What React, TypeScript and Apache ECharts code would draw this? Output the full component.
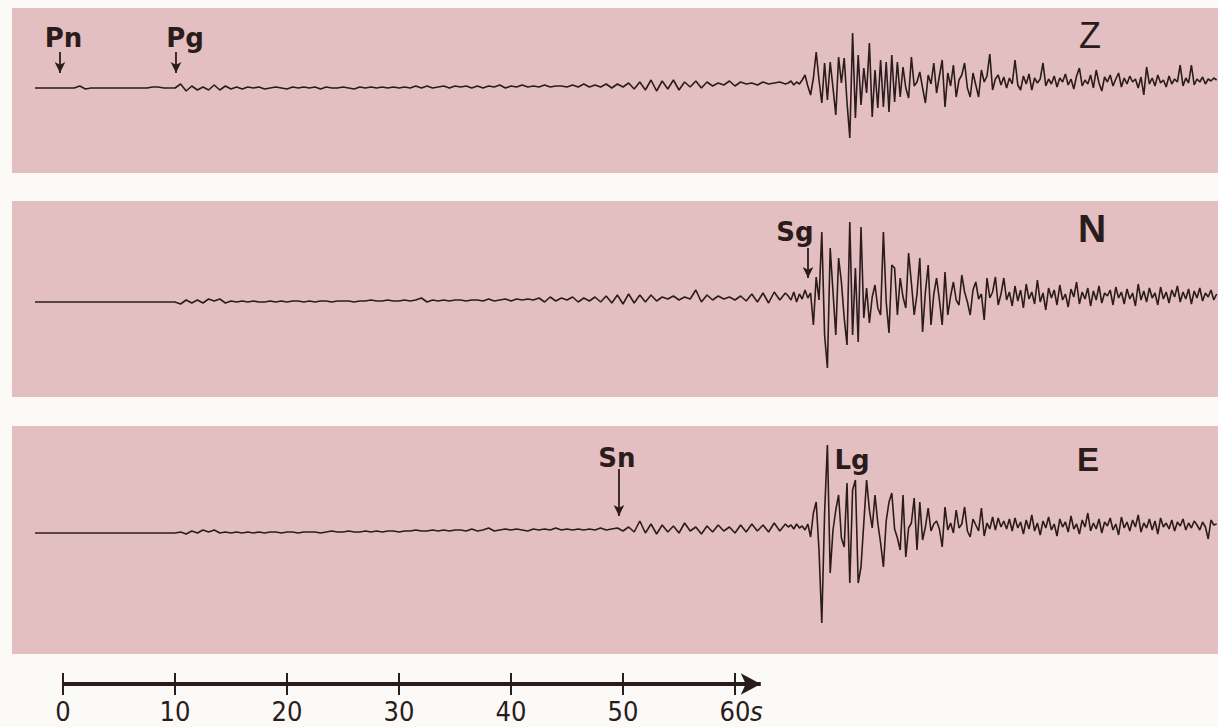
import React, { useEffect, useRef } from "react";
import * as echarts from "echarts";

// ---- sample time grid (seconds) ----
const EARLY_START = -2.5;
const EARLY_STEP = 0.5;
const LATE_START = 64.75;
const LATE_STEP = 0.25;

// ---- trace amplitudes (px above each trace's reference line) ----
const Z_EARLY = [
  0, 0, 0, 0, 0, 0, 0, 0, 2, -1,
  0, 0, 0, 0, 0, 0, 0, 0, 0, 0, 0, 1, 1, 0, 0,
  0, 4, -3, 2, -2, 1, -2, 3, -2, 2, -1, 1, -1, 1, 0,
  1, -1, 0, 1, 0, -1, 1, 0, 1, 0, 1, -1, 1, 0, 0,
  1, 0, -1, 1, 0, 1, 0, 1, 0, 1, 0, 1, 0, 2, 0,
  2, 0, 1, 2, 0, 2, 1, 2, 0, 2, 0, 2, 1, 3, 0,
  2, 1, 3, 1, 2, 1, 3, 1, 2, 2, 1, 3, 1, 4, 1,
  3, 1, 4, 0, 4, 1, 5, -1, 6, -2, 8, -3, 7, -1, 8,
  -2, 6, 1, 7, 0, 6, 2, 5, 3, 7, 2, 6, 4, 5, 3,
  6, 4, 5, 6, 4,
];
const Z_LATE = [
  5, 7, 3, 6, 4, 8, 13, 2, -7, 10,
  36, 8, -15, 25, -12, 26, 0, -27, 31, 5,
  30, -14, -50, 55, -30, 33, -17, 20, -5, 45,
  -29, 18, -20, 28, -19, 26, -24, 33, -14, 26,
  -9, 21, 0, -10, 31, 2, 6, 16, 0, -15,
  13, 4, 25, -5, 12, 28, -19, 15, 2, 23,
  -9, 8, 13, 25, 0, -9, 15, 3, -9, 18,
  6, 12, 34, -2, 9, 13, 3, 11, 0, 10,
  4, 28, 3, -2, 12, 4, 14, -2, 10, 5,
  9, 25, 2, 9, 4, 12, 1, 10, 6, 14,
  3, 9, -1, 12, 20, 2, 8, 4, 13, 0,
  18, 5, -3, 11, 6, 13, 2, 9, 15, 1,
  10, 4, 12, 6, 9, 0, 11, -7, 21, 4,
  10, 2, 13, 5, 8, 1, 12, 4, 9, 6,
  23, 2, 10, 5, 23, 3, 9, 6, 11, 4,
  9, 7, 10, 8,
];
const N_EARLY = [
  0, 0, 0, 0, 0, 0, 0, 0, 0, 0, 0, 0, 0, 0, 0, 0, 0, 0, 0, 0, 0, 0, 0, 0, 0, 0,
  -2, 2, -1, 2, -1, 3, 1, 3, -1, 1, 0, 1, 0, 1, 0,
  0, 1, 0, 1, 0, 1, 1, 0, 1, 0, 1, 1, 0, 1, 1,
  1, 0, 1, 1, 2, 1, 1, 2, 1, 1, 2, 1, 2, 4, 0,
  2, 1, 2, 1, 2, 2, 1, 2, 2, 1, 3, 1, 2, 3, 1,
  3, 2, 3, 2, 4, 0, 5, 1, 4, 2, 5, 0, 4, 1, 5,
  0, 6, -1, 7, -2, 8, -1, 7, 0, 7, 1, 5, 3, 6, 2,
  5, 3, 12, 0, 7, 2, 6, 3, 5, 2, 6, 1, 8, 0, 9,
  -1, 10, 2, 9,
];
const N_LATE = [
  6, 2, 10, 0, 8, 3, 12, 4, 9, -23,
  25, 2, 70, -33, -66, 54, 10, -33, 44, 20,
  -16, -43, 80, -33, 34, -40, 75, -16, 14, -21,
  5, 17, -6, -13, 70, 0, -31, 37, 34, -13,
  24, 5, -6, 49, 19, -13, 8, 44, -30, 10,
  37, -23, 8, 24, 2, -23, 30, -13, 6, 20,
  2, -3, 27, 10, 0, -13, 12, 20, 3, 8,
  -18, 24, 4, 10, 25, -3, 8, 24, 2, 10,
  -4, 16, 1, 12, -6, 18, 3, 10, -2, 22,
  0, 9, -8, 14, 4, 12, -3, 17, 2, 8,
  -5, 13, 5, 20, -2, 10, 3, 14, -4, 11,
  2, 16, -1, 9, 6, 12, -3, 15, 4, 10,
  -2, 13, 3, 9, -4, 18, 2, 11, 0, 14,
  4, 9, -3, 15, 3, 10, -1, 12, 5, 16,
  0, 10, 3, 13, -2, 11, 4, 14, 1, 9,
  5, 12, 2, 8,
];
const E_EARLY = [
  0, 0, 0, 0, 0, 0, 0, 0, 0, 0, 0, 0, 0, 0, 0, 0, 0, 0, 0, 0, 0, 0, 0, 0, 0, 0,
  1, -1, 2, 0, 3, 1, 3, 0, 1, 0, 1, 0, 1, 0, 1,
  0, 1, 1, 0, 1, 1, 0, 1, 1, 1, 0, 1, 2, 1, 1,
  2, 1, 1, 2, 1, 2, 1, 2, 2, 1, 2, 2, 3, 2, 2,
  3, 2, 3, 2, 3, 3, 2, 4, 2, 3, 5, 2, 3, 4, 3,
  4, 3, 2, 4, 3, 4, 3, 5, 3, 4, 3, 4, 3, 4, 3,
  5, 3, 4, 5, 2, 6, 1, 12, 0, 9, -1, 8, 1, 7, 0,
  10, 2, 6, -1, 7, 1, 8, 2, 6, 0, 8, 1, 9, 2, 8,
  1, 10, 2, 9,
];
const E_LATE = [
  6, 8, 4, 9, 5, 7, 3, 9, -4, 20,
  31, -17, -90, 20, 88, -40, 3, 23, 38, -5,
  -14, 50, -50, 43, 53, -50, -34, 10, 53, 23,
  5, 38, 10, -10, -34, 12, 31, 40, 4, -5,
  -17, 38, -24, 5, 10, 35, -17, 31, -7, 6,
  25, 2, 9, 12, 4, -14, 26, 3, 10, 0,
  23, 5, 9, 26, 2, -4, 14, 8, 2, 25,
  -3, 10, 4, 16, 3, 15, 6, 12, 4, 14,
  2, 15, 5, 11, -1, 13, 4, 18, 2, 10,
  -2, 12, 5, 16, 3, 9, -3, 14, 6, 11,
  1, 17, 4, 9, -1, 13, 6, 20, 2, 10,
  4, 14, 0, 11, 7, 15, 3, 9, -2, 16,
  5, 11, 2, 13, 6, 18, 1, 10, 5, 14,
  3, 12, -1, 15, 6, 10, 4, 13, 2, 11,
  7, 14, 3, 10, 5, 12, 8, 3, 11, 6,
  -6, 13, 8, 9,
];

const STATIONS = ["Z", "N", "E"];
const TRACES_EARLY = [Z_EARLY, N_EARLY, E_EARLY];
const TRACES_LATE = [Z_LATE, N_LATE, E_LATE];

// phase picks (seconds)
const PHASE_NAMES = ["Pn", "Pg", "Sg", "Sn", "Lg"];
const PHASE_STATION = ["Z", "Z", "N", "E", "E"];
const PHASE_TIMES = [-0.27, 10.09, 66.52, 49.64, 70.45];
const PHASE_ARROW = [true, true, true, true, false];

// time scale
const TICK_VALUES = [0, 10, 20, 30, 40, 50, 60];
const TICK_LABELS = ["0", "10", "20", "30", "40", "50", "60"];
const AXIS_UNIT = "s";

// ---- layout / style ----
const PX0 = 63; // pixel of t = 0
const PX_PER_S = 11.2;
const LEFT = 12;
const WIDTH = 1206;
const XMIN = (LEFT - PX0) / PX_PER_S;
const XMAX = (LEFT + WIDTH - PX0) / PX_PER_S;
const BANDS = [
  { top: 8, bottom: 173, ref: 88 },
  { top: 201, bottom: 397, ref: 302 },
  { top: 426, bottom: 654, ref: 533 },
];
// bottom time-scale panel: line at y = 684, ticks 673..695, panel ends at 727
const AXIS_TOP = 673;
const AXIS_LINE_Y = 684;
const AXIS_BOTTOM = 727;
const TICK_HALF = 11;
const AXIS_END = 62.3;
const AXIS_LABEL_Y = -27.5;

const PINK = "#e4bfc1";
const PAGE = "#fcfaf6";
const INK = "#2b1c1c";
const LABEL_FONT = '"DejaVu Sans", "Noto Sans", sans-serif';
const DIGIT_FONT = '"DejaVu Sans Condensed", "Liberation Sans Narrow", "Liberation Sans", sans-serif';

const PHASE_LAYOUT: Record<string, { dx: number; labelY: number; top?: number; tip?: number }> = {
  Pn: { dx: 3.5, labelY: 50, top: 36, tip: 15 },
  Pg: { dx: 9, labelY: 50, top: 36, tip: 15 },
  Sg: { dx: -13, labelY: 70, top: 54, tip: 24 },
  Sn: { dx: -2, labelY: 75, top: 64, tip: 17 },
  Lg: { dx: 0, labelY: 73 },
};
const STATION_LAYOUT = [
  { x: 1090, y: 53, size: 36, weight: "normal" },
  { x: 1092, y: 74, size: 39, weight: "bold" },
  { x: 1088, y: 74, size: 33, weight: "bold" },
];

function buildPoints(early: number[], late: number[]) {
  const pts: number[][] = [];
  early.forEach((v, k) => pts.push([EARLY_START + EARLY_STEP * k, v]));
  late.forEach((v, j) => pts.push([LATE_START + LATE_STEP * j, v]));
  return pts;
}

export default function App() {
  const ref = useRef<HTMLDivElement>(null);

  useEffect(() => {
    document.body.style.margin = "0";
    document.body.style.background = PAGE;
    if (!ref.current) return;
    const chart = echarts.init(ref.current, undefined, { renderer: "svg" });

    const grids: any[] = BANDS.map((b) => ({
      left: LEFT,
      width: WIDTH,
      top: b.top,
      height: b.bottom - b.top,
      show: true,
      backgroundColor: PINK,
      borderWidth: 0,
    }));
    grids.push({ left: LEFT, width: WIDTH, top: AXIS_TOP, height: AXIS_BOTTOM - AXIS_TOP, show: false });

    const xAxes = grids.map((_, i) => ({
      type: "value",
      gridIndex: i,
      min: XMIN,
      max: XMAX,
      show: false,
    }));
    const yAxes: any[] = BANDS.map((b, i) => ({
      type: "value",
      gridIndex: i,
      min: -(b.bottom - b.ref),
      max: b.ref - b.top,
      show: false,
    }));
    yAxes.push({
      type: "value",
      gridIndex: 3,
      min: -(AXIS_BOTTOM - AXIS_LINE_Y),
      max: AXIS_LINE_Y - AXIS_TOP,
      show: false,
    });

    const traceSeries = STATIONS.map((st, i) => {
      const arrows: any[] = [];
      const marks: any[] = [];
      PHASE_NAMES.forEach((name, p) => {
        if (PHASE_STATION[p] !== st) return;
        const lay = PHASE_LAYOUT[name];
        const t = PHASE_TIMES[p];
        if (PHASE_ARROW[p]) {
          arrows.push([{ coord: [t, lay.top] }, { coord: [t, lay.tip] }]);
        }
        marks.push({
          name,
          coord: [t + lay.dx / PX_PER_S, lay.labelY],
          label: { fontSize: 26, fontWeight: "bold", fontFamily: LABEL_FONT },
        });
      });
      const sl = STATION_LAYOUT[i];
      marks.push({
        name: st,
        coord: [(sl.x - PX0) / PX_PER_S, sl.y],
        label: { fontSize: sl.size, fontWeight: sl.weight, fontFamily: '"Liberation Sans", "DejaVu Sans", sans-serif' },
      });
      return {
        type: "line",
        name: st,
        xAxisIndex: i,
        yAxisIndex: i,
        data: buildPoints(TRACES_EARLY[i], TRACES_LATE[i]),
        showSymbol: false,
        silent: true,
        clip: false,
        lineStyle: { color: INK, width: 1.6 },
        markLine: {
          silent: true,
          symbol: ["none", "arrow"],
          symbolSize: [8, 11],
          label: { show: false },
          lineStyle: { color: INK, width: 1.8, type: "solid" },
          data: arrows,
        },
        markPoint: {
          silent: true,
          symbol: "circle",
          symbolSize: 0,
          label: { show: true, position: "inside", formatter: "{b}", color: INK },
          data: marks,
        },
      };
    });

    const axisSeries = {
      type: "line",
      xAxisIndex: 3,
      yAxisIndex: 3,
      data: [
        [TICK_VALUES[0], 0],
        [AXIS_END - 0.5, 0],
      ],
      showSymbol: false,
      silent: true,
      clip: false,
      lineStyle: { color: INK, width: 4 },
      markLine: {
        silent: true,
        symbol: ["none", "arrow"],
        symbolSize: [16, 20],
        label: { show: false },
        lineStyle: { color: INK, width: 4, type: "solid" },
        data: [[{ coord: [AXIS_END - 1, 0] }, { coord: [AXIS_END, 0] }]],
      },
      markPoint: {
        silent: true,
        symbol: "circle",
        symbolSize: 0,
        label: {
          show: true,
          position: "inside",
          formatter: "{b}",
          color: INK,
          fontSize: 27,
          lineHeight: 24,
          fontFamily: DIGIT_FONT,
        },
        data: [
          ...TICK_VALUES.map((v, i) => ({ name: TICK_LABELS[i], coord: [v, AXIS_LABEL_Y] })),
          {
            name: AXIS_UNIT,
            coord: [TICK_VALUES[TICK_VALUES.length - 1] + 1.9, AXIS_LABEL_Y],
            label: { fontStyle: "italic" },
          },
        ],
      },
    };

    const tickSeries = {
      type: "line",
      xAxisIndex: 3,
      yAxisIndex: 3,
      data: TICK_VALUES.map((v) => [v, 0]),
      showSymbol: false,
      silent: true,
      lineStyle: { width: 0, opacity: 0 },
      markLine: {
        silent: true,
        symbol: ["none", "none"],
        label: { show: false },
        lineStyle: { color: INK, width: 2, type: "solid" },
        data: TICK_VALUES.map((v) => [{ coord: [v, -TICK_HALF] }, { coord: [v, TICK_HALF] }]),
      },
    };

    chart.setOption({
      animation: false,
      backgroundColor: PAGE,
      grid: grids,
      xAxis: xAxes,
      yAxis: yAxes,
      series: [...traceSeries, axisSeries, tickSeries],
    });

    return () => chart.dispose();
  }, []);

  return <div ref={ref} style={{ width: 1218, height: 727 }} />;
}
